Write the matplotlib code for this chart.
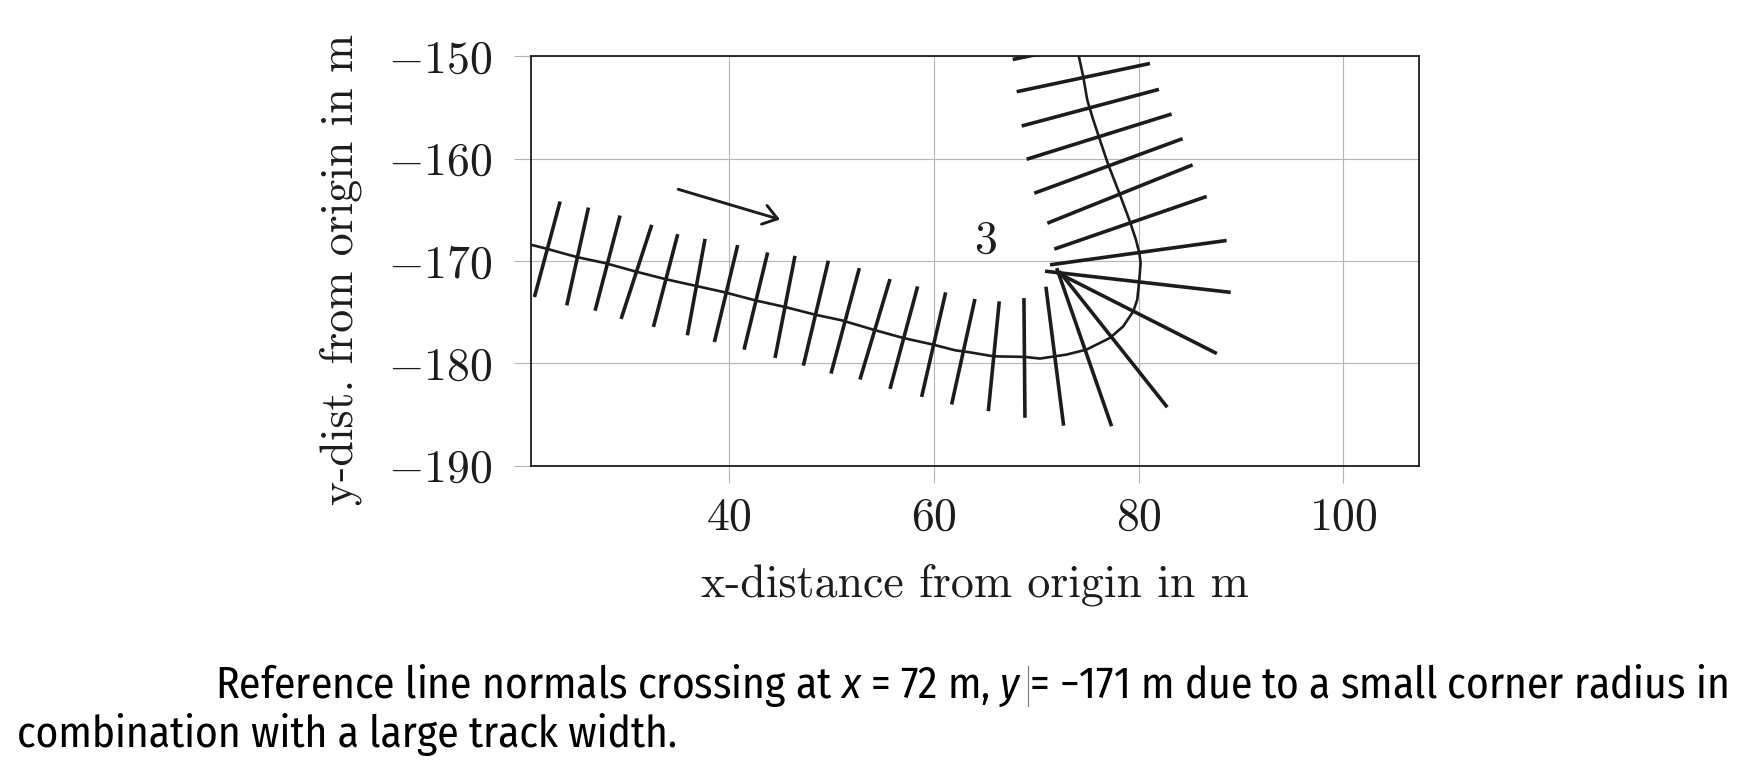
import matplotlib.pyplot as plt
from matplotlib import font_manager as fm
from matplotlib.collections import LineCollection
from matplotlib.lines import Line2D

# reference line (centre of track)
ref_x = [20.62, 22.15, 25.08, 27.85, 30.78, 33.71, 36.64, 39.57, 42.51, 45.44,
         48.37, 50.97, 54.07, 57.0, 59.93, 62.05, 63.5, 65.8, 68.89, 70.36,
         72.96, 74.92, 77.2, 78.5, 79.48, 79.87, 80.07, 80.2, 80.07, 79.74,
         79.15, 78.18, 77.04, 76.22, 75.57, 74.98, 74.59, 74.17]
ref_y = [-168.42, -168.81, -169.62, -170.21, -171.02, -171.77, -172.42, -173.07, -173.85, -174.5,
         -175.25, -175.8, -176.72, -177.53, -178.18, -178.73, -178.93, -179.32, -179.38, -179.54,
         -179.15, -178.66, -177.52, -176.39, -174.92, -173.78, -171.83, -170.2, -169.23, -167.93,
         -166.14, -163.54, -160.61, -158.18, -156.22, -154.27, -152.0, -150.05]

# normals: one end (x0, y0) to the other end (x1, y1)
norm_x0 = [23.45, 26.22, 29.31, 32.41, 34.95, 37.62, 40.81, 43.74, 46.41, 49.67,
           52.70, 55.70, 58.40, 61.14, 64.00, 66.38, 68.79, 70.94, 72.0, 72.25,
           72.0, 70.85, 71.34, 71.76, 71.08, 69.80, 69.06, 68.57, 68.08, 67.69]
norm_y0 = [-164.19, -164.78, -165.56, -166.47, -167.38, -167.84, -168.45, -169.17, -169.50, -169.98,
           -170.70, -171.77, -172.49, -173.07, -173.72, -173.95, -173.63, -172.52, -170.7, -171.02,
           -171.12, -171.0, -170.38, -168.84, -166.31, -163.38, -160.06, -156.81, -153.46, -150.31]
norm_x1 = [20.94, 24.10, 26.87, 29.41, 32.57, 35.89, 38.53, 41.43, 44.46, 47.23,
           49.93, 52.76, 55.70, 58.79, 61.72, 65.31, 68.89, 72.67, 77.36, 82.80,
           87.65, 89.0, 88.6, 86.65, 85.28, 84.30, 83.23, 81.99, 81.11, 80.7]
norm_y1 = [-173.53, -174.34, -174.86, -175.67, -176.45, -177.27, -177.92, -178.67, -179.48, -180.23,
           -181.01, -181.59, -182.50, -183.29, -184.03, -184.68, -185.33, -186.1, -186.15, -184.3,
           -179.05, -173.07, -168.0, -163.70, -160.61, -158.05, -155.64, -153.23, -150.70, -147.6]

arrow_start = (35.0, -163.0)
arrow_end = (44.95, -165.95)
corner_label = "3"
corner_label_xy = (65.0, -168.0)

x_ticks = [40, 60, 80, 100]
y_ticks = [-190, -180, -170, -160, -150]
x_label = "x-distance from origin in m"
y_label = "y-dist. from origin in m"
caption_head = "Reference line normals crossing at $x$ = 72 m, $y$"
caption_1 = caption_head + " = \u2212171 m due to a small corner radius in"
caption_2 = "combination with a large track width."

# caption is set in a condensed sans
installed = {f.name for f in fm.fontManager.ttflist}
cap_name = next((n for n in ["Fira Sans Condensed", "Archivo Narrow", "Barlow Semi Condensed"]
                 if n in installed), "DejaVu Sans")

plt.rcParams.update({
    "font.family": "serif",
    "font.serif": ["cmr10"],
    "mathtext.fontset": "cm",
    "axes.formatter.use_mathtext": True,
    "mathtext.rm": cap_name,
    "mathtext.it": f"{cap_name}:italic",
})

ink = "#1c1c1c"
grid_grey = "#b5b5b5"

fig = plt.figure(figsize=(17.5, 7.63), dpi=100)
ax = fig.add_axes([0.3034, 0.3898, 0.5074, 0.5364])

ax.set_xlim(20.6, 107.4)
ax.set_ylim(-190, -150)
ax.set_xticks(x_ticks)
ax.set_yticks(y_ticks)
ax.grid(True, color=grid_grey, linewidth=0.8)
ax.set_axisbelow(True)
ax.tick_params(direction="out", length=12.5, width=0.8, color=grid_grey,
               labelsize=33, labelcolor=ink)
ax.tick_params(axis="y", pad=15)
ax.tick_params(axis="x", pad=10)
for sp in ax.spines.values():
    sp.set_linewidth(1.3)
    sp.set_color(ink)

segs = [[(a, b), (c, d)] for a, b, c, d in zip(norm_x0, norm_y0, norm_x1, norm_y1)]
ax.add_collection(LineCollection(segs, colors=ink, linewidths=2.6, capstyle="butt", zorder=3))
ax.plot(ref_x, ref_y, color=ink, linewidth=1.9, zorder=3)

ax.annotate("", xy=arrow_end, xytext=arrow_start,
            arrowprops=dict(arrowstyle="->,head_length=0.5,head_width=0.35", color=ink,
                            lw=2.1, shrinkA=0, shrinkB=0, mutation_scale=20))
ax.text(*corner_label_xy, corner_label, fontsize=33, color=ink, ha="center", va="center")

ax.set_xlabel(x_label, fontsize=33, color=ink, va="top")
ax.xaxis.set_label_coords(0.5, -0.238)
ax.set_ylabel(y_label, fontsize=33, color=ink)
ax.yaxis.set_label_coords(-0.19, 0.48)

cap_kw = dict(family=cap_name, fontsize=30.5, color="black", va="baseline", ha="left",
              math_fontfamily="custom")
x1, y1 = 215 / 1750, 1 - 697.5 / 763
t1 = fig.text(x1, y1, caption_1, **cap_kw)
t2 = fig.text(17 / 1750, 1 - 747 / 763, caption_2, **cap_kw)

# fit the first caption line to the width it has in the original
renderer = fig.canvas.get_renderer()
scale = 1513 / t1.get_window_extent(renderer).width
t1.set_fontsize(30.5 * scale)
t2.set_fontsize(30.5 * scale)

# thin cursor-like stroke that sits in the caption right after "y"
probe = fig.text(x1, y1, caption_head, **{**cap_kw, "fontsize": 30.5 * scale})
bar_x = (x1 * 1750 + probe.get_window_extent(renderer).width + 6) / 1750
probe.remove()
fig.add_artist(Line2D([bar_x, bar_x], [1 - 666 / 763, 1 - 706 / 763],
                      color="#777777", linewidth=0.8))

fig.savefig("out.png", dpi=100)
